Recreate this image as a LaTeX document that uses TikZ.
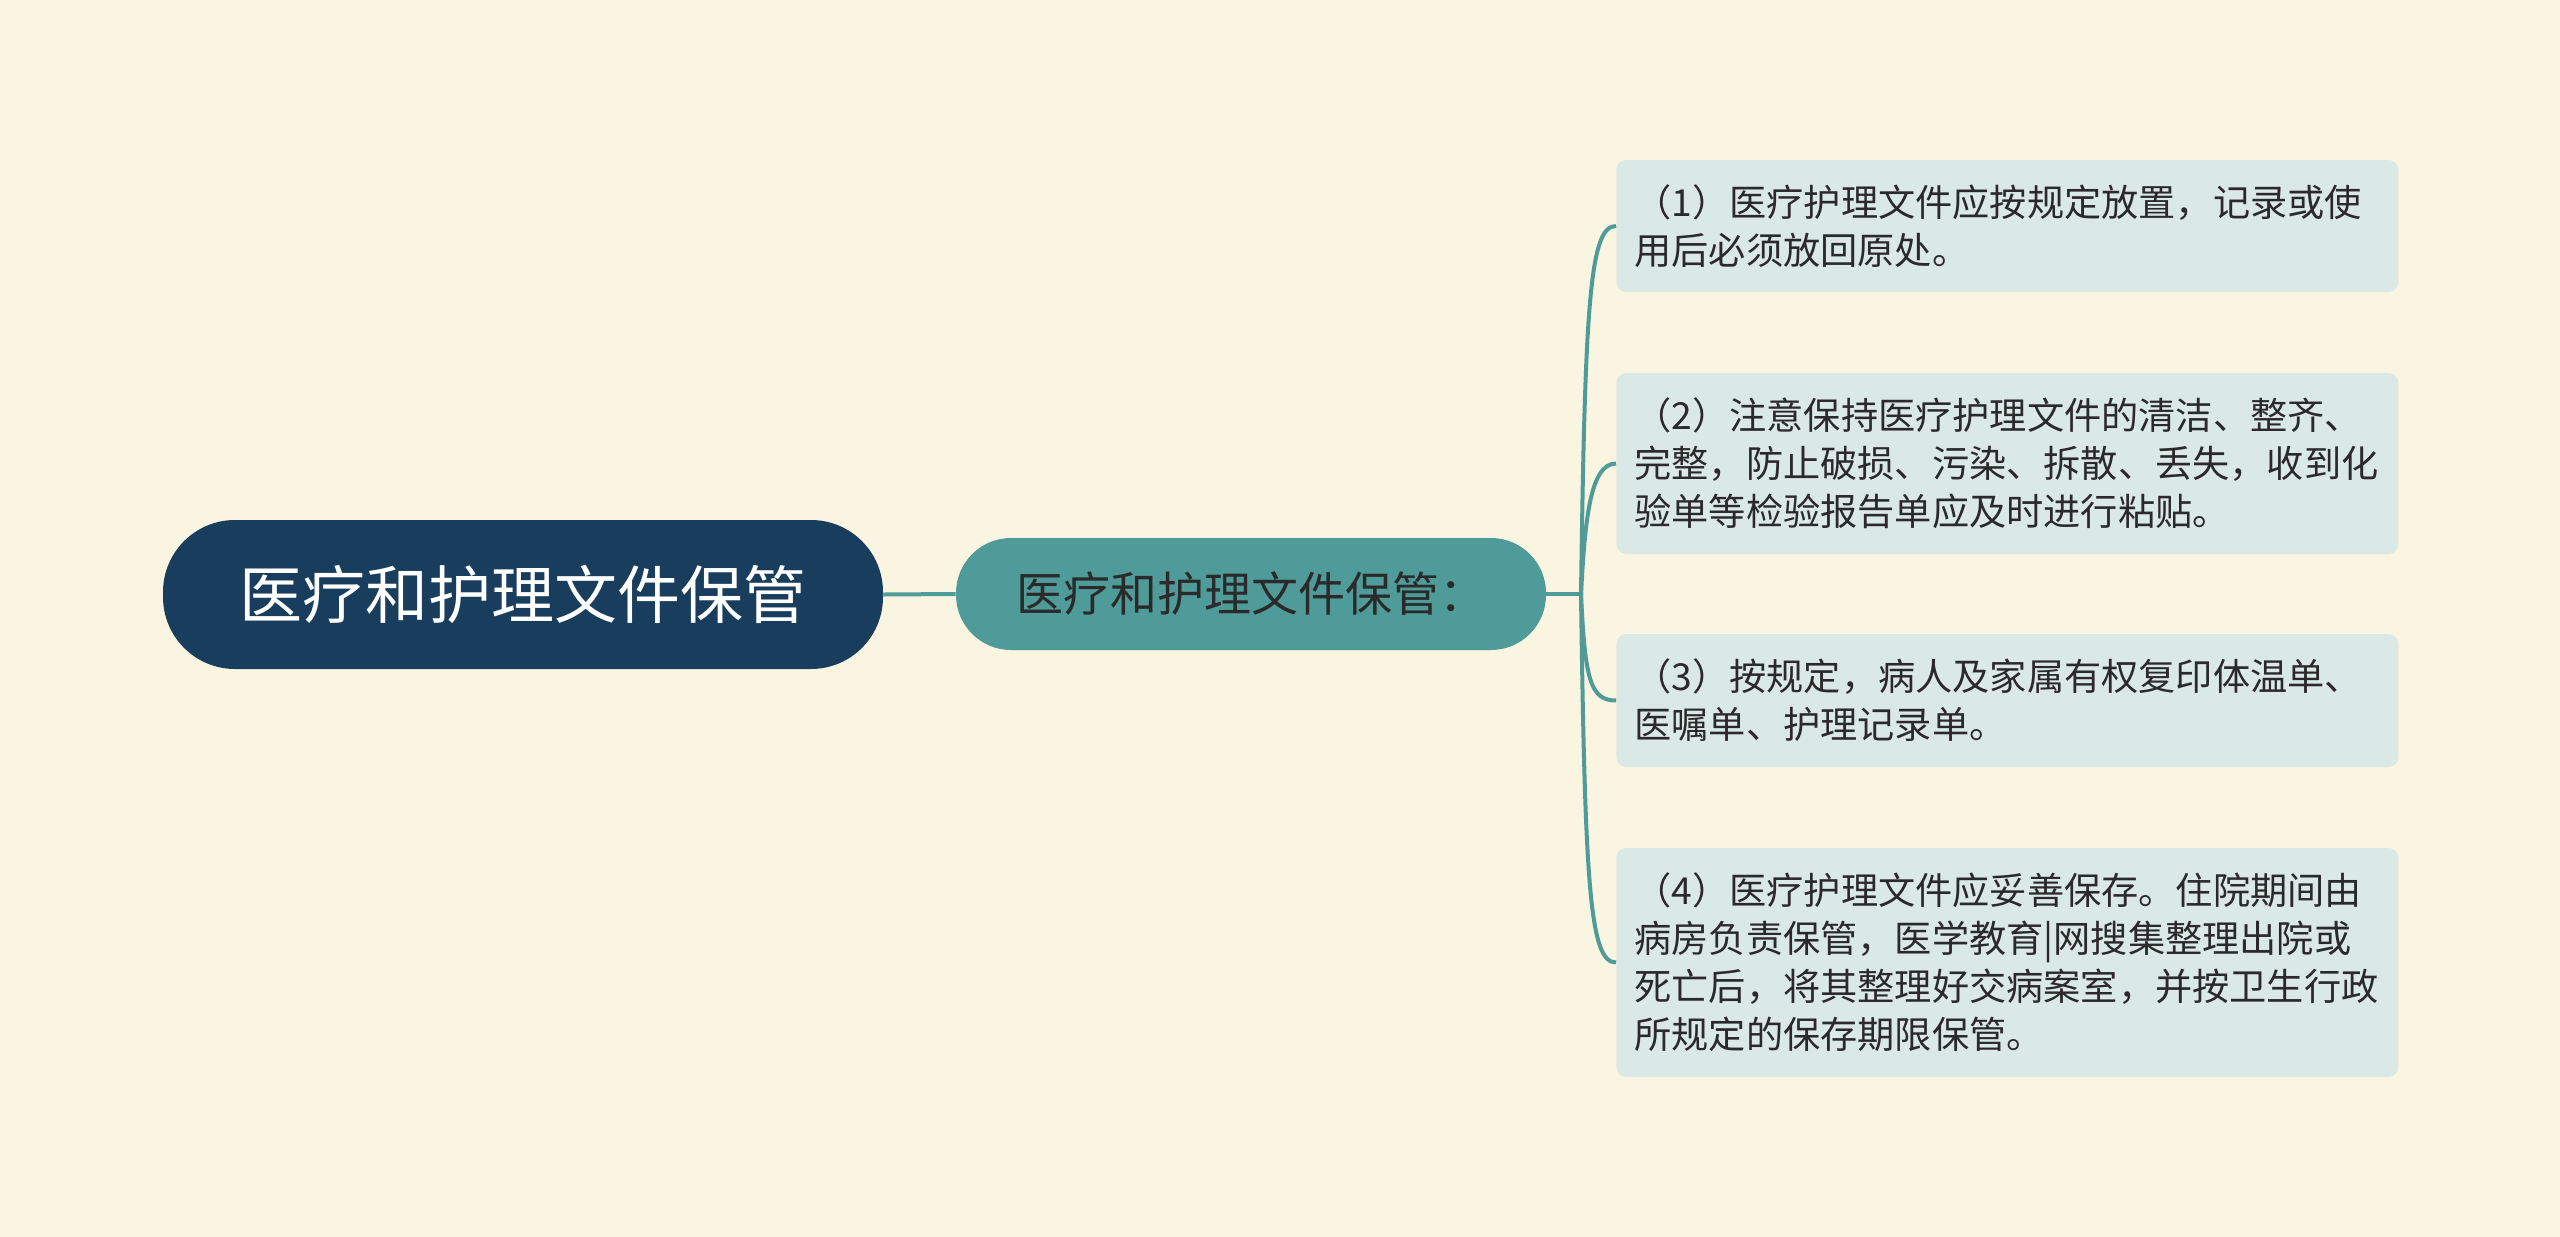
\documentclass[tikz,border=0pt]{standalone}
\usepackage{fontspec}
\setmainfont{Noto Sans CJK SC}
\definecolor{bgc}{HTML}{FAF5E0}
\definecolor{rootc}{HTML}{183D5D}
\definecolor{childc}{HTML}{4E9B99}
\definecolor{leafc}{HTML}{DBE9E6}
\definecolor{linec}{HTML}{4E9B99}
\definecolor{darktext}{HTML}{2A2A2A}
\begin{document}
\begin{tikzpicture}[x=0.5pt,y=-0.5pt,
  rootbox/.style={fill=rootc, rounded corners=36pt, minimum width=360pt, minimum height=74.5pt, inner sep=0pt, text=white, font=\fontsize{31.5pt}{36pt}\selectfont},
  childbox/.style={fill=childc, rounded corners=27.5pt, minimum width=295pt, minimum height=56pt, inner sep=0pt, text=darktext, font=\fontsize{23.5pt}{28pt}\selectfont},
  leafbox/.style={fill=leafc, rounded corners=5pt, anchor=west, text width=373pt, inner xsep=9pt, inner ysep=0pt, align=left, text=darktext, font=\fontsize{18.6pt}{24pt}\selectfont},
  conn/.style={draw=linec, line width=2pt}
]
\fill[bgc] (0,0) rectangle (2560,1237);
\useasboundingbox (0,0) rectangle (2560,1237);

\node[rootbox] (root) at (523,594.5) {医疗和护理文件保管};
\node[childbox] (child) at (1251,594) {医疗和护理文件保管：};

\node[leafbox, minimum height=66pt] (l1) at (1616,226) {（1）医疗护理文件应按规定放置，记录或使\\用后必须放回原处。};
\node[leafbox, minimum height=90.5pt] (l2) at (1616,463.5) {（2）注意保持医疗护理文件的清洁、整齐、\\完整，防止破损、污染、拆散、丢失，收到化\\验单等检验报告单应及时进行粘贴。};
\node[leafbox, minimum height=66.5pt] (l3) at (1616,700.5) {（3）按规定，病人及家属有权复印体温单、\\医嘱单、护理记录单。};
\node[leafbox, minimum height=114.5pt] (l4) at (1616,962.5) {（4）医疗护理文件应妥善保存。住院期间由\\病房负责保管，医学教育|网搜集整理出院或\\死亡后，将其整理好交病案室，并按卫生行政\\所规定的保存期限保管。};

\coordinate (j) at (1581,594);
\draw[conn] (root.east) -- (child.west);
\draw[conn] (child.east) -- (j);
\draw[conn] (j) .. controls (1585,300) and (1590,226) .. (l1.west);
\draw[conn] (j) .. controls (1585,520) and (1590,463.5) .. (l2.west);
\draw[conn] (j) .. controls (1585,679) and (1590,700.5) .. (l3.west);
\draw[conn] (j) .. controls (1585,889) and (1590,962.5) .. (l4.west);
\end{tikzpicture}
\end{document}
